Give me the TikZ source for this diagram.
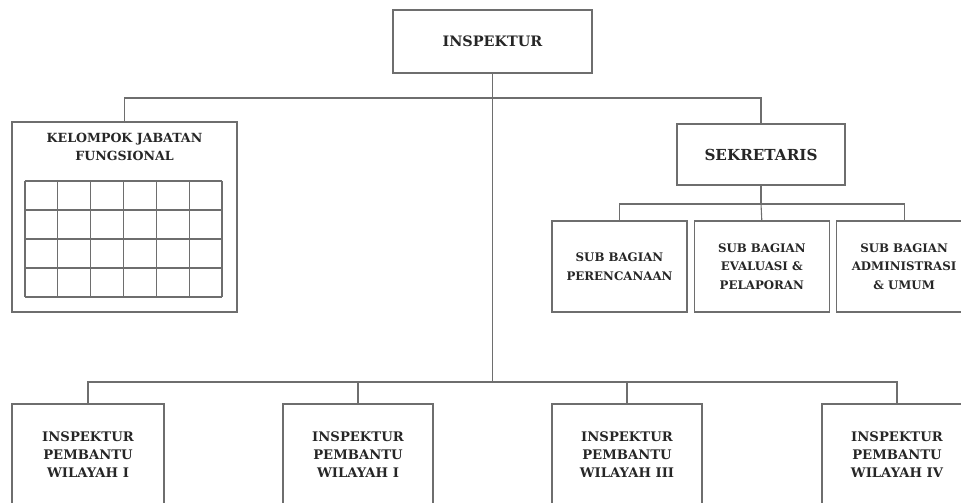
\documentclass[tikz,border=0pt]{standalone}
\usepackage{fontspec}
\setmainfont{DejaVu Serif}
\usepackage{tikz}
\usetikzlibrary{positioning}
\definecolor{lineg}{RGB}{110,110,110}
\tikzstyle{unit} = [rectangle, draw=lineg, line width=1.3pt, fill=white, text=black!85, align=center, inner sep=0pt, font=\bfseries]
\tikzstyle{textonly} = [draw=none, fill=none, text=black!85, align=center, font=\bfseries]
\tikzstyle{tedge} = [draw=lineg, line width=1.1pt]

\begin{document}
\begin{tikzpicture}[x=1pt, y=-1pt]
\useasboundingbox (0,0) rectangle (961,503);

% units =============================
\node[unit, minimum width=199pt, minimum height=63pt, font=\bfseries\fontsize{14.4}{16}\selectfont] (insp) at (492.5,41.5) {INSPEKTUR};
\node[unit, minimum width=225pt, minimum height=190pt] (kjf) at (124.5,217) {};
\node[textonly, below=8pt of kjf.north, font=\bfseries\fontsize{12.6}{18}\selectfont] (kjftitle) {KELOMPOK JABATAN\\FUNGSIONAL};
\node[unit, minimum width=168pt, minimum height=61pt, font=\bfseries\fontsize{15.2}{17}\selectfont] (sek) at (761,154.5) {SEKRETARIS};

% sub bagian
\node[unit, minimum width=135pt, minimum height=91pt, font=\bfseries\fontsize{11.8}{18.5}\selectfont] (sb1) at (619.5,266.5) {SUB BAGIAN\\PERENCANAAN};
\node[unit, minimum width=135pt, minimum height=91pt, right=6pt of sb1, font=\bfseries\fontsize{11.8}{18.5}\selectfont] (sb2) {SUB BAGIAN\\EVALUASI \&\\PELAPORAN};
\node[unit, minimum width=135pt, minimum height=91pt, right=6pt of sb2, font=\bfseries\fontsize{11.8}{18.5}\selectfont] (sb3) {SUB BAGIAN\\ADMINISTRASI\\\& UMUM};

% inspektur pembantu
\node[unit, minimum width=152pt, minimum height=102pt, font=\bfseries\fontsize{13.2}{18}\selectfont] (ip1) at (88,455) {INSPEKTUR\\PEMBANTU\\WILAYAH I};
\node[unit, minimum width=150pt, minimum height=102pt, font=\bfseries\fontsize{13.2}{18}\selectfont] (ip2) at (358,455) {INSPEKTUR\\PEMBANTU\\WILAYAH I};
\node[unit, minimum width=150pt, minimum height=102pt, font=\bfseries\fontsize{13.2}{18}\selectfont] (ip3) at (627,455) {INSPEKTUR\\PEMBANTU\\WILAYAH III};
\node[unit, minimum width=150pt, minimum height=102pt, font=\bfseries\fontsize{13.2}{18}\selectfont] (ip4) at (897,455) {INSPEKTUR\\PEMBANTU\\WILAYAH IV};

% grid of jabatan fungsional
\foreach \gx in {0,...,6}
  \draw[lineg, line width=1.1pt] (25+\gx*32.83,181) -- (25+\gx*32.83,297);
\foreach \gy in {0,...,4}
  \draw[lineg, line width=1.1pt] (25,181+\gy*29) -- (222,181+\gy*29);

% edges
\coordinate (j1) at (492.5,98);
\coordinate (j2) at (492.5,382);
\coordinate (j3) at (761,204);
\path[tedge] (insp.south) -- (j2);
\path[tedge] (j1) -| (kjf.north);
\path[tedge] (j1) -| (sek.north);
\path[tedge] (sek.south) -- (j3);
\path[tedge] (j3) -| (sb1.north);
\path[tedge] (j3) -- (sb2.north);
\path[tedge] (j3) -| (sb3.north);
\path[tedge] (j2) -| (ip1.north);
\path[tedge] (j2) -| (ip2.north);
\path[tedge] (j2) -| (ip3.north);
\path[tedge] (j2) -| (ip4.north);

\end{tikzpicture}
\end{document}
